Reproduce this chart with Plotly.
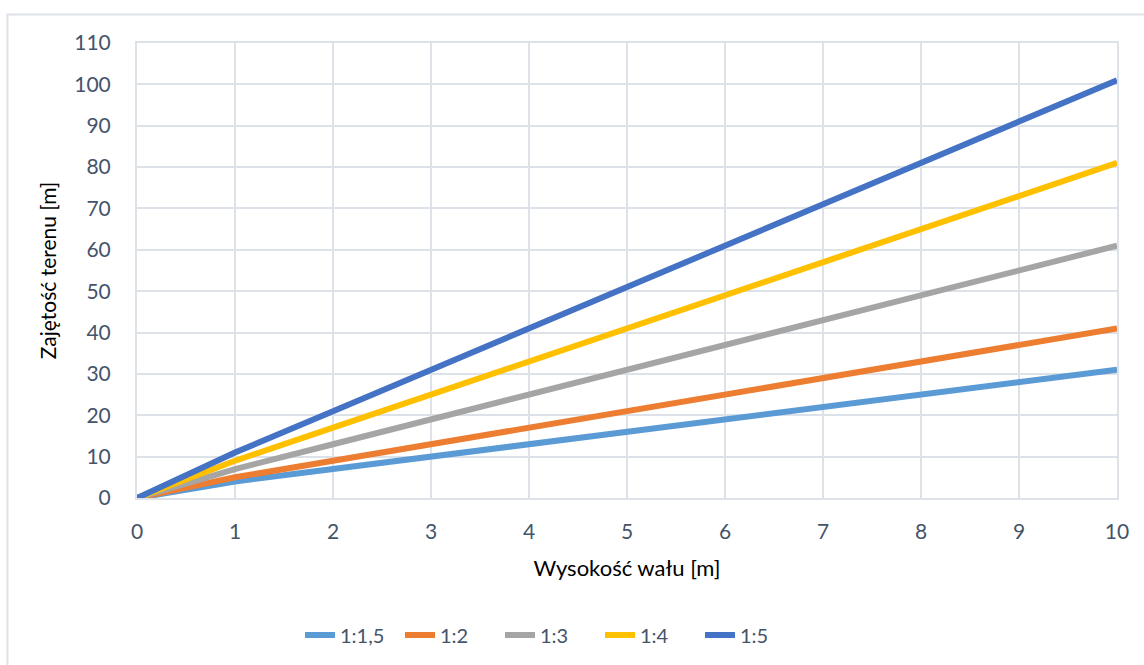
import plotly.graph_objects as go

# Wysokość wału [m]
heights = [0, 1, 2, 3, 4, 5, 6, 7, 8, 9, 10]

# Zajętość terenu [m] dla poszczególnych nachyleń skarp
slope_1_1_5 = [0, 4, 7, 10, 13, 16, 19, 22, 25, 28, 31]
slope_1_2 = [0, 5, 9, 13, 17, 21, 25, 29, 33, 37, 41]
slope_1_3 = [0, 7, 13, 19, 25, 31, 37, 43, 49, 55, 61]
slope_1_4 = [0, 9, 17, 25, 33, 41, 49, 57, 65, 73, 81]
slope_1_5 = [0, 11, 21, 31, 41, 51, 61, 71, 81, 91, 101]

series_names = ["1:1,5", "1:2", "1:3", "1:4", "1:5"]
series_values = [slope_1_1_5, slope_1_2, slope_1_3, slope_1_4, slope_1_5]
series_colors = ["#5B9BD5", "#ED7D31", "#A5A5A5", "#FFC000", "#4472C4"]

FONT = "Lato, 'Open Sans', sans-serif"
TICK_COLOR = "#44546A"
GRID = "#DDE1E8"

fig = go.Figure()
for name, vals, col in zip(series_names, series_values, series_colors):
    fig.add_trace(go.Scatter(
        x=heights, y=vals, name=name, mode="lines",
        line=dict(color=col, width=6),
    ))

# plot area in pixels: x 137..1117, y 43..498
L, R, T, B = 137, 27, 43, 167
W, H = 1144, 665
pw, ph = W - L - R, H - T - B

def px_x(p):
    return (p - L) / pw

def px_y(p):
    return (H - B - p) / ph

fig.update_layout(
    width=W, height=H,
    margin=dict(l=L, r=R, t=T, b=B, autoexpand=False),
    paper_bgcolor="white", plot_bgcolor="white",
    font=dict(family=FONT, size=21, color=TICK_COLOR),
    showlegend=True,
    legend=dict(
        orientation="h", x=px_x(300), y=px_y(635), xanchor="left", yanchor="middle",
        font=dict(family=FONT, size=20, color=TICK_COLOR),
        entrywidth=55, entrywidthmode="pixels",
        traceorder="normal", bgcolor="rgba(0,0,0,0)",
    ),
    xaxis=dict(
        range=[0, 10], dtick=1, tick0=0, automargin=False,
        showgrid=True, gridcolor=GRID, gridwidth=2,
        zeroline=False, showline=True, linecolor=GRID, linewidth=2, mirror=True,
        ticks="", ticklabelstandoff=14,
        tickfont=dict(family=FONT, size=21, color=TICK_COLOR),
        title=dict(text="Wysokość wału [m]", standoff=18,
                   font=dict(family=FONT, size=22, color="#000000")),
    ),
    yaxis=dict(
        range=[0, 110], dtick=10, tick0=0, automargin=False,
        showgrid=True, gridcolor=GRID, gridwidth=2,
        zeroline=False, showline=True, linecolor=GRID, linewidth=2, mirror=True,
        ticks="", ticklabelstandoff=20,
        tickfont=dict(family=FONT, size=21, color=TICK_COLOR),
        title=dict(text="Zajętość terenu [m]", standoff=12,
                   font=dict(family=FONT, size=21, color="#000000")),
    ),
    shapes=[dict(
        type="rect", xref="paper", yref="paper",
        x0=px_x(7.5), x1=px_x(1200), y0=px_y(720), y1=px_y(14.5),
        line=dict(color=GRID, width=2), fillcolor="rgba(0,0,0,0)", layer="below",
    )],
)

fig.write_html("out.html")
